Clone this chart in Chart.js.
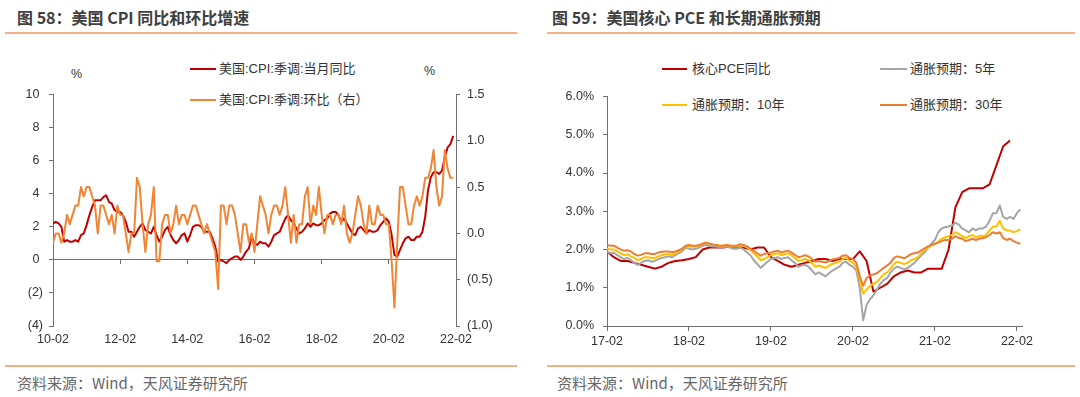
<!DOCTYPE html>
<html>
<head>
<meta charset="utf-8">
<script src="https://cdn.jsdelivr.net/npm/chart.js@4.4.0/dist/chart.umd.min.js"></script>
<style>
  body { margin: 0; width: 1080px; height: 397px; background: #fff; position: relative; overflow: hidden;
         font-family: "Liberation Sans", "Noto Sans CJK SC", sans-serif; }
  .title { position: absolute; top: 7px; font-size: 16px; line-height: 20px; font-weight: bold; color: #404040;
           font-family: "Noto Sans CJK SC", sans-serif; }
  .hr { position: absolute; height: 2px; background: #f4b183; }
  .src { position: absolute; top: 373px; font-size: 15px; line-height: 20px; color: #666;
         font-family: "Noto Sans CJK SC", sans-serif; }
  .unit { position: absolute; font-size: 12.5px; line-height: 16px; color: #333; }
  .leg { position: absolute; font-size: 13px; line-height: 16px; color: #333; white-space: nowrap; }
  .sw { position: absolute; height: 2px; }
  canvas { position: absolute; }
</style>
</head>
<body>

<div class="title" style="left:17px">图 58：美国 CPI 同比和环比增速</div>
<div class="title" style="left:552px">图 59：美国核心 PCE 和长期通胀预期</div>
<div class="hr" style="left:5px;width:512px;top:32px"></div>
<div class="hr" style="left:547px;width:528px;top:32px"></div>

<div class="unit" style="left:71px;top:66px">%</div>
<div class="unit" style="left:424px;top:63px">%</div>

<div class="sw" style="left:190px;top:68px;width:26px;background:#C00000"></div>
<div class="leg" style="left:219px;top:61px">美国:CPI:季调:当月同比</div>
<div class="sw" style="left:190px;top:99px;width:26px;background:#F08536"></div>
<div class="leg" style="left:219px;top:92px">美国:CPI:季调:环比（右）</div>

<div class="sw" style="left:662px;top:68px;width:25px;background:#C00000"></div>
<div class="leg" style="left:692px;top:61px">核心PCE同比</div>
<div class="sw" style="left:662px;top:104px;width:25px;background:#FFC000"></div>
<div class="leg" style="left:692px;top:97px">通胀预期：10年</div>
<div class="sw" style="left:880px;top:68px;width:27px;background:#A5A5A5"></div>
<div class="leg" style="left:910px;top:61px">通胀预期：5年</div>
<div class="sw" style="left:880px;top:104px;width:27px;background:#ED7D31"></div>
<div class="leg" style="left:910px;top:97px">通胀预期：30年</div>

<canvas id="cpi" width="520" height="270" style="left:0;top:80px"></canvas>
<canvas id="pce" width="540" height="270" style="left:540px;top:80px"></canvas>

<div class="hr" style="left:5px;width:512px;top:365px;height:1.5px"></div>
<div class="hr" style="left:547px;width:528px;top:365px;height:1.5px"></div>
<div class="src" style="left:17px">资料来源：Wind，天风证券研究所</div>
<div class="src" style="left:557px">资料来源：Wind，天风证券研究所</div>

<script>
// 图58: 2010-02 .. 2022-01, monthly
const cpiTickLabels = ['10-02', '12-02', '14-02', '16-02', '18-02', '20-02', '22-02']
const cpiYoY = [
    2.2, 2.3, 2.2, 2.0, 1.1, 1.2, 1.1, 1.1, 1.2, 1.1, 1.5,
    1.6, 2.1, 2.7, 3.2, 3.6, 3.6, 3.6, 3.8, 3.9, 3.5, 3.4, 3.0,
    2.9, 2.9, 2.7, 2.3, 1.7, 1.7, 1.4, 1.7, 2.0, 2.2, 1.8, 1.7,
    1.6, 2.0, 1.5, 1.1, 1.4, 1.8, 2.0, 1.5, 1.2, 1.0, 1.2, 1.5,
    1.6, 1.1, 1.5, 2.0, 2.1, 2.1, 2.0, 1.7, 1.7, 1.7, 1.3, 0.8,
    -0.1, 0.0, -0.1, -0.2, 0.0, 0.1, 0.2, 0.2, 0.0, 0.2, 0.5, 0.7,
    1.4, 1.0, 0.9, 1.1, 1.0, 1.0, 0.8, 1.1, 1.5, 1.6, 1.7, 2.1,
    2.5, 2.7, 2.4, 2.2, 1.9, 1.6, 1.7, 1.9, 2.2, 2.0, 2.2, 2.1,
    2.1, 2.2, 2.4, 2.5, 2.8, 2.9, 2.9, 2.7, 2.3, 2.5, 2.2, 1.9,
    1.6, 1.5, 1.9, 2.0, 1.8, 1.6, 1.8, 1.7, 1.7, 1.8, 2.1, 2.3,
    2.5, 2.3, 1.5, 0.3, 0.2, 0.6, 1.0, 1.3, 1.4, 1.2, 1.2, 1.4,
    1.4, 1.7, 2.6, 4.2, 5.0, 5.3, 5.3, 5.2, 5.4, 6.2, 6.8, 7.0,
    7.5
]
const cpiMoM = [
    -0.1, 0.0, 0.0, -0.1, 0.0, 0.2, 0.1, 0.2, 0.3, 0.3, 0.5,
    0.4, 0.5, 0.5, 0.4, 0.3, 0.0, 0.3, 0.3, 0.2, 0.1, 0.2, 0.0,
    0.3, 0.2, 0.2, 0.0, -0.2, 0.0, 0.0, 0.6, 0.5, 0.1, -0.2, 0.1,
    0.2, 0.5, -0.3, -0.3, 0.1, 0.2, 0.2, 0.0, 0.1, 0.3, 0.1, 0.2,
    0.2, 0.1, 0.2, 0.3, 0.3, 0.2, 0.1, 0.0, 0.1, 0.0, -0.1, -0.2,
    -0.6, 0.3, 0.3, 0.1, 0.3, 0.3, 0.2, 0.0, -0.2, 0.1, 0.1, -0.1,
    0.0, -0.2, 0.1, 0.4, 0.3, 0.2, 0.0, 0.2, 0.3, 0.3, 0.2, 0.3,
    0.5, 0.2, -0.1, 0.2, -0.1, 0.1, 0.1, 0.4, 0.5, 0.1, 0.3, 0.2,
    0.5, 0.2, 0.0, 0.2, 0.2, 0.1, 0.2, 0.2, 0.1, 0.3, 0.0, -0.1,
    0.0, 0.2, 0.4, 0.3, 0.1, 0.0, 0.3, 0.1, 0.1, 0.3, 0.2, 0.2,
    0.1, 0.1, -0.3, -0.8, -0.1, 0.5, 0.5, 0.3, 0.1, 0.1, 0.3, 0.4,
    0.3, 0.4, 0.6, 0.6, 0.7, 0.9, 0.5, 0.3, 0.4, 0.9, 0.7, 0.6,
    0.6
]

// 图59: core PCE monthly 2017-01 .. 2021-12, breakevens twice a month 2017-02 .. 2022-02
const pceTickLabels = ['17-02', '18-02', '19-02', '20-02', '21-02', '22-02']
const pceCore = [
    1.95, 1.8, 1.7, 1.7, 1.65, 1.6, 1.55, 1.5, 1.55, 1.65, 1.7, 1.72,
    1.75, 1.8, 2.0, 2.05, 2.05, 2.05, 2.08, 2.05, 2.05, 2.0, 2.05, 2.05,
    1.8, 1.7, 1.6, 1.55, 1.6, 1.65, 1.7, 1.75, 1.75, 1.7, 1.75, 1.75,
    1.75, 1.95, 1.7, 0.9, 1.0, 1.1, 1.3, 1.4, 1.45, 1.4, 1.4, 1.5,
    1.5, 1.5, 2.0, 3.1, 3.5, 3.6, 3.6, 3.6, 3.7, 4.2, 4.7, 4.85
]
const be5y = [
    1.95, 1.90, 1.92, 1.85, 1.80, 1.75, 1.78, 1.72, 1.65, 1.60, 1.65, 1.70, 1.72, 1.68, 1.70, 1.75, 1.78, 1.80, 1.82, 1.80, 1.85, 1.90,
    1.95, 2.05, 2.02, 2.00, 2.02, 2.05, 2.10, 2.12, 2.10, 2.08, 2.08, 2.06, 2.05, 2.08, 2.05, 2.02, 2.02, 2.05, 2.00, 1.92, 1.85, 1.72, 1.62, 1.52,
    1.60, 1.68, 1.75, 1.78, 1.80, 1.75, 1.78, 1.80, 1.72, 1.65, 1.55, 1.58, 1.60, 1.55, 1.45, 1.35, 1.40, 1.35, 1.30, 1.38, 1.45, 1.50, 1.55, 1.65,
    1.68, 1.60, 1.55, 1.45, 1.00, 0.15, 0.55, 0.70, 0.80, 0.95, 1.10, 1.20, 1.25, 1.40, 1.50, 1.55, 1.52, 1.48, 1.52, 1.58, 1.65, 1.75, 1.85, 1.92,
    2.05, 2.15, 2.25, 2.45, 2.55, 2.58, 2.60, 2.62, 2.70, 2.65, 2.55, 2.50, 2.45, 2.55, 2.50, 2.55, 2.55, 2.60, 2.75, 2.95, 2.95, 3.15, 2.85, 2.80,
    2.85, 2.80, 2.95, 3.05
]
const be10y = [
    2.02, 2.00, 2.00, 1.95, 1.90, 1.85, 1.88, 1.82, 1.78, 1.72, 1.75, 1.80, 1.80, 1.78, 1.78, 1.82, 1.85, 1.87, 1.88, 1.85, 1.90, 1.95,
    2.00, 2.08, 2.08, 2.07, 2.08, 2.10, 2.15, 2.18, 2.15, 2.12, 2.12, 2.10, 2.10, 2.12, 2.10, 2.08, 2.08, 2.12, 2.10, 2.05, 1.98, 1.90, 1.82, 1.72,
    1.75, 1.80, 1.85, 1.88, 1.90, 1.85, 1.88, 1.90, 1.85, 1.78, 1.70, 1.72, 1.75, 1.72, 1.65, 1.55, 1.58, 1.55, 1.52, 1.58, 1.62, 1.65, 1.68, 1.75,
    1.78, 1.70, 1.65, 1.55, 1.20, 0.85, 0.95, 1.05, 1.10, 1.15, 1.25, 1.35, 1.40, 1.50, 1.62, 1.68, 1.65, 1.62, 1.65, 1.72, 1.75, 1.80, 1.90, 1.98,
    2.05, 2.10, 2.15, 2.20, 2.28, 2.32, 2.35, 2.38, 2.45, 2.40, 2.35, 2.30, 2.35, 2.38, 2.32, 2.35, 2.35, 2.38, 2.50, 2.60, 2.60, 2.75, 2.55, 2.50,
    2.50, 2.45, 2.48, 2.53
]
const be30y = [
    2.12, 2.10, 2.10, 2.05, 2.00, 1.97, 1.98, 1.95, 1.88, 1.84, 1.86, 1.90, 1.90, 1.88, 1.88, 1.92, 1.94, 1.95, 1.95, 1.93, 1.95, 1.98,
    2.02, 2.10, 2.12, 2.10, 2.10, 2.12, 2.15, 2.18, 2.15, 2.13, 2.12, 2.10, 2.10, 2.12, 2.10, 2.10, 2.10, 2.14, 2.12, 2.08, 2.02, 1.96, 1.90, 1.84,
    1.88, 1.90, 1.92, 1.95, 1.97, 1.92, 1.95, 1.97, 1.92, 1.86, 1.80, 1.82, 1.85, 1.82, 1.75, 1.68, 1.70, 1.68, 1.66, 1.70, 1.74, 1.76, 1.78, 1.84,
    1.85, 1.78, 1.75, 1.65, 1.30, 1.05, 1.25, 1.32, 1.35, 1.38, 1.45, 1.52, 1.58, 1.65, 1.78, 1.82, 1.80, 1.77, 1.82, 1.88, 1.90, 1.92, 1.98, 2.03,
    2.08, 2.12, 2.15, 2.18, 2.22, 2.25, 2.25, 2.28, 2.35, 2.30, 2.28, 2.22, 2.25, 2.28, 2.25, 2.28, 2.30, 2.32, 2.38, 2.45, 2.42, 2.45, 2.30, 2.25,
    2.28, 2.22, 2.18, 2.15
]

Chart.defaults.font.family = '"Liberation Sans", "Noto Sans CJK SC", sans-serif'
Chart.defaults.font.size = 12.5
Chart.defaults.color = '#333'

const axisColor = '#6f6f6f'

function series(values, step) {
    return values.map((v, i) => ({ x: i * step, y: v }))
}

function lineSet(label, values, step, color, axis) {
    return {
        label: label,
        data: series(values, step),
        yAxisID: axis || 'y',
        borderColor: color,
        backgroundColor: color,
        borderWidth: 2,
        pointRadius: 0,
        tension: 0,
        borderJoinStyle: 'round'
    }
}

let cpiChart = new Chart(document.getElementById('cpi'), {
    type: 'line',
    data: {
        datasets: [
            lineSet('美国:CPI:季调:环比（右）', cpiMoM, 1, '#F08536', 'y1'),
            lineSet('美国:CPI:季调:当月同比', cpiYoY, 1, '#C00000', 'y')
        ]
    },
    options: {
        responsive: false,
        animation: false,
        layout: { padding: { top: 8, left: 0, right: 0, bottom: 0 } },
        plugins: { legend: { display: false }, tooltip: { enabled: false } },
        scales: {
            x: {
                type: 'linear', min: 0, max: 144, position: 'bottom',
                border: { display: false },
                grid: { display: false, drawTicks: false },
                ticks: {
                    stepSize: 24, includeBounds: false, autoSkip: false, maxRotation: 0, padding: 6,
                    callback: (v, i) => cpiTickLabels[i]
                },
                afterFit: (s) => { s.height = 24 }
            },
            xz: {
                type: 'linear', min: 0, max: 144, position: { y: 0 },
                border: { color: axisColor },
                grid: { drawOnChartArea: false, tickLength: 4, color: axisColor },
                ticks: { display: false, stepSize: 24, includeBounds: false }
            },
            y: {
                position: 'left', min: -4, max: 10,
                border: { color: axisColor },
                grid: { drawOnChartArea: false, tickLength: 4, color: axisColor },
                ticks: { stepSize: 2, padding: 6, callback: (v) => v < 0 ? '(' + (-v) + ')' : v + ' ' },
                afterFit: (s) => { s.width = 53 }
            },
            y1: {
                position: 'right', min: -1, max: 1.5,
                border: { color: axisColor },
                grid: { drawOnChartArea: false, tickLength: 4, color: axisColor },
                ticks: { stepSize: 0.5, padding: 7, callback: (v) => v < 0 ? '(' + (-v).toFixed(1) + ')' : v.toFixed(1) },
                afterFit: (s) => { s.width = 64 }
            }
        }
    }
})

let pceChart = new Chart(document.getElementById('pce'), {
    type: 'line',
    data: {
        datasets: [
            lineSet('通胀预期：30年', be30y, 0.5, '#ED7D31'),
            lineSet('通胀预期：10年', be10y, 0.5, '#FFC000'),
            lineSet('通胀预期：5年', be5y, 0.5, '#A5A5A5'),
            lineSet('核心PCE同比', pceCore, 1, '#C00000')
        ]
    },
    options: {
        responsive: false,
        animation: false,
        layout: { padding: { top: 11, left: 0, right: 58, bottom: 0 } },
        plugins: { legend: { display: false }, tooltip: { enabled: false } },
        scales: {
            x: {
                type: 'linear', min: 0, max: 60.75, position: 'bottom',
                border: { color: axisColor },
                grid: { drawOnChartArea: false, tickLength: 5, color: axisColor },
                ticks: {
                    stepSize: 12, includeBounds: false, autoSkip: false, maxRotation: 0, padding: 3,
                    callback: (v, i) => pceTickLabels[i]
                },
                afterFit: (s) => { s.height = 24 }
            },
            y: {
                position: 'left', min: 0, max: 6,
                border: { color: axisColor },
                grid: { drawOnChartArea: false, tickLength: 4, color: axisColor },
                ticks: { stepSize: 1, padding: 9, callback: (v) => v.toFixed(1) + '%' },
                afterFit: (s) => { s.width = 67 }
            }
        }
    }
})
</script>
</body>
</html>
